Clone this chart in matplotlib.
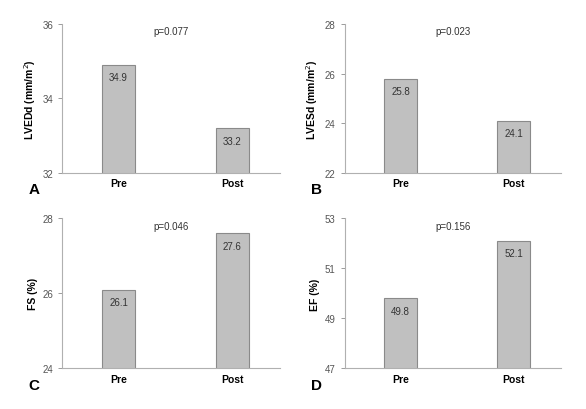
import matplotlib
matplotlib.use('Agg')
import matplotlib.pyplot as plt

plt.rcParams['font.family'] = ['Liberation Sans', 'DejaVu Sans']

GRAY = '#8c8c8c'
BAR = '#c0c0c0'
EDGE = '#8a8a8a'
TEXT = '#333333'

groups = ['Pre', 'Post']
lvedd = [34.9, 33.2]
lvesd = [25.8, 24.1]
fs = [26.1, 27.6]
ef = [49.8, 52.1]

panels = [
    # letter, values, ylabel, pval, ylim, yticks, axes rect
    ('A', lvedd, 'LVEDd (mm/m$^2$)', 'p=0.077', (32, 36), [32, 34, 36], [0.106, 0.576, 0.372, 0.363]),
    ('B', lvesd, 'LVESd (mm/m$^2$)', 'p=0.023', (22, 28), [22, 24, 26, 28], [0.588, 0.576, 0.370, 0.363]),
    ('C', fs, 'FS (%)', 'p=0.046', (24, 28), [24, 26, 28], [0.106, 0.099, 0.372, 0.366]),
    ('D', ef, 'EF (%)', 'p=0.156', (47, 53), [47, 49, 51, 53], [0.588, 0.099, 0.370, 0.366]),
]

fig = plt.figure(figsize=(5.86, 4.10), dpi=100)
fig.patch.set_facecolor('white')

for letter, vals, ylabel, pval, ylim, yticks, rect in panels:
    ax = fig.add_axes(rect)
    x = range(len(groups))
    ax.bar(x, vals, width=0.29, color=BAR, edgecolor=EDGE, linewidth=0.8, zorder=2)
    for i, v in enumerate(vals):
        ax.annotate(f'{v}', (i, v), textcoords='offset points', xytext=(0, -9),
                    ha='center', va='center', fontsize=7, color=TEXT)
    ax.set_xlim(-0.497, 1.423)
    ax.set_ylim(*ylim)
    ax.set_yticks(yticks)
    ax.set_xticks(list(x))
    ax.set_xticklabels(groups, fontsize=7.5, fontweight='bold')
    ax.set_ylabel(ylabel, fontsize=7.5, fontweight='bold', labelpad=3)
    ax.spines[['top', 'right']].set_visible(False)
    ax.spines['left'].set_color('#b0b0b0')
    ax.spines['bottom'].set_color('#b0b0b0')
    ax.spines['bottom'].set_zorder(3)
    ax.tick_params(axis='y', colors=GRAY, labelsize=7, length=3, width=0.6, labelcolor='#555555')
    ax.tick_params(axis='x', length=0, pad=4)
    ax.text(0.5, 0.95, pval, transform=ax.transAxes, ha='center', va='center',
            fontsize=7, color=TEXT)
    ax.text(-0.13, -0.11, letter, transform=ax.transAxes, ha='center', va='center',
            fontsize=11, fontweight='bold', color='black')

fig.savefig('out.png', dpi=100, facecolor='white')
